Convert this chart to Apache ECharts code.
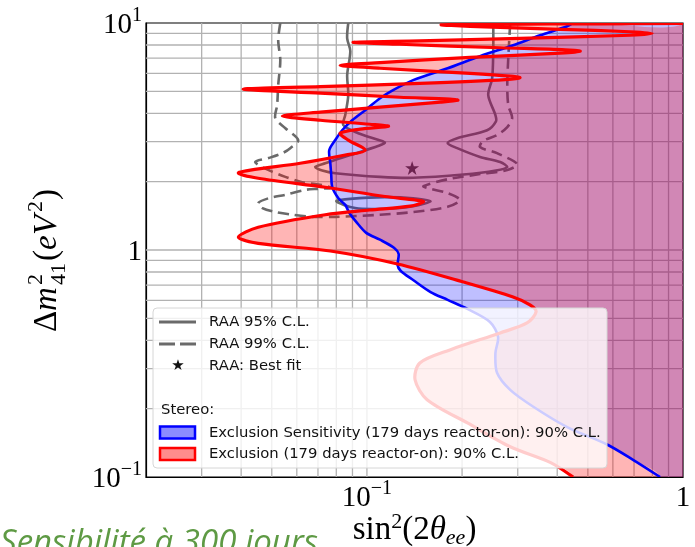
<!DOCTYPE html>
<html><head><meta charset="utf-8">
<script src="https://cdn.jsdelivr.net/npm/echarts@6/dist/echarts.min.js"></script>
<style>html,body{margin:0;padding:0;background:#fff}#c{width:695px;height:547px}</style>
</head><body><div id="c"></div>
<script>
// ---- grid line positions (minor + major decades) ----
const xGridValues = [0.03,0.04,0.05,0.06,0.07,0.08,0.09,0.1,0.2,0.3,0.4,0.5,0.6,0.7,0.8,0.9];
const yGridValues = [0.2,0.3,0.4,0.5,0.6,0.7,0.8,0.9,1,2,3,4,5,6,7,8,9];

// ---- Stereo exclusion contour (90% C.L.), [sin^2(2theta), dm2] top -> bottom ----
const exclusionCurve = [
 [1,9.95],[0.547,9.92],[0.264,9.87],[0.172,9.82],[0.212,9.67],[0.408,9.38],[0.680,9.15],[0.798,9.01],
 [0.680,8.83],[0.305,8.56],[0.147,8.35],[0.0905,8.23],[0.127,8.06],[0.264,7.78],[0.424,7.62],[0.473,7.51],
 [0.408,7.36],[0.212,7.06],[0.110,6.69],[0.0823,6.51],[0.110,6.32],[0.212,6.0],[0.284,5.83],[0.305,5.74],
 [0.274,5.63],[0.147,5.42],[0.0712,5.24],[0.0406,5.11],[0.0712,4.91],[0.127,4.71],[0.183,4.62],[0.194,4.57],
 [0.171,4.48],[0.110,4.26],[0.0712,4.05],[0.054,3.89],[0.0712,3.73],[0.102,3.58],[0.117,3.51],[0.0952,3.41],
 [0.0823,3.27],[0.0873,3.05],[0.0988,2.75],[0.0854,2.62],[0.0615,2.41],[0.0428,2.25],[0.0392,2.18],[0.0453,2.07],
 [0.0738,1.89],[0.114,1.72],[0.142,1.66],[0.151,1.63],[0.137,1.56],[0.102,1.50],[0.0738,1.43],[0.0453,1.26],
 [0.0392,1.14],[0.0453,1.07],[0.0766,0.99],[0.125,0.868],[0.202,0.723],[0.290,0.621],[0.328,0.573],[0.343,0.534],
 [0.321,0.477],[0.264,0.431],[0.183,0.363],[0.147,0.318],[0.142,0.268],[0.155,0.219],[0.208,0.173],[0.284,0.136],
 [0.380,0.116],[0.449,0.100]
];

// ---- Stereo exclusion sensitivity contour (90% C.L.) ----
const sensitivityCurve = [
 [0.449,10],[0.430,9.67],[0.353,8.83],[0.290,7.98],[0.228,7.14],[0.180,6.32],[0.140,5.60],[0.121,5.06],
 [0.110,4.66],[0.0988,4.13],[0.0898,3.73],[0.0835,3.37],[0.0794,3.05],[0.0760,2.75],[0.0766,2.41],[0.0771,2.14],
 [0.0777,1.89],[0.0812,1.69],[0.0854,1.58],[0.0879,1.46],[0.0925,1.33],[0.0995,1.19],[0.110,1.11],[0.122,1.02],
 [0.126,0.960],[0.125,0.859],[0.128,0.808],[0.140,0.738],[0.159,0.653],[0.180,0.603],[0.208,0.550],[0.245,0.482],
 [0.260,0.414],[0.255,0.352],[0.258,0.288],[0.284,0.242],[0.336,0.204],[0.430,0.166],[0.575,0.139],[0.695,0.119],
 [0.846,0.100]
];

// ---- RAA allowed regions ----
const raa95Main = [
 [0.0873,10],[0.0866,8.56],[0.0886,7.51],[0.0866,5.89],[0.0873,4.81],[0.0854,3.93],[0.0842,3.55],[0.0939,3.27],
 [0.109,3.05],[0.114,2.97],[0.109,2.88],[0.0886,2.62],[0.0738,2.41],[0.0686,2.32],[0.0722,2.24],[0.0794,2.18],
 [0.110,2.10],[0.140,2.08],[0.202,2.15],[0.256,2.24],[0.278,2.32],[0.264,2.44],[0.228,2.57],[0.193,2.81],
 [0.180,2.96],[0.193,3.11],[0.240,3.37],[0.256,3.69],[0.255,3.93],[0.242,4.81],[0.249,5.71],[0.251,7.58],[0.251,10]
];
const raa95Island = [
 [0.0800,1.64],[0.0886,1.68],[0.114,1.71],[0.140,1.69],[0.159,1.64],[0.140,1.56],[0.114,1.52],[0.0918,1.53]
];
const raa99 = [
 [0.0532,10],[0.0524,8.40],[0.0532,6.85],[0.0524,5.32],[0.0520,4.35],[0.0513,3.81],[0.0552,3.44],[0.0606,3.05],
 [0.0572,2.81],[0.0540,2.67],[0.0488,2.54],[0.0443,2.44],[0.0495,2.23],[0.0552,2.10],[0.0624,1.99],[0.0722,1.93],
 [0.0771,1.88],[0.0702,1.86],[0.0638,1.84],[0.0552,1.75],[0.0488,1.69],[0.0453,1.61],[0.0467,1.53],[0.0513,1.47],
 [0.0581,1.43],[0.0672,1.40],[0.0794,1.40],[0.110,1.43],[0.140,1.47],[0.180,1.55],[0.197,1.66],[0.180,1.78],
 [0.159,1.86],[0.151,1.91],[0.180,2.05],[0.228,2.16],[0.278,2.25],[0.299,2.39],[0.258,2.67],[0.228,2.84],
 [0.233,3.02],[0.258,3.21],[0.278,3.48],[0.288,3.81],[0.280,4.35],[0.278,5.32],[0.280,6.99],[0.284,10]
];
const raaBestFit = [[0.139, 2.30]];

// ---- axis extents ----
const xRange = [0.02, 1];
const yRange = [0.1, 10];

const serif = 'Liberation Serif';
const SMOOTH = 0.3;
const STAR = 'path://M50,0 L61.8,36.2 L100,36.2 L69.1,58.6 L80.9,95 L50,72.6 L19.1,95 L30.9,58.6 L0,36.2 L38.2,36.2 Z';

function expLabel(v){
  const l = Math.log10(v), e = Math.round(l);
  if (Math.abs(l - e) > 1e-6) return '';
  if (e === 0) return '{b|1}';
  return '{b|10}{s|' + (e < 0 ? '\u2212' : '') + Math.abs(e) + '}';
}
const tickRich = {
  b:{fontFamily:serif,fontSize:29,color:'#000',lineHeight:34,verticalAlign:'bottom'},
  s:{fontFamily:serif,fontSize:20,color:'#000',lineHeight:34,verticalAlign:'top'}
};

// filled region: right of the curve, up to the right edge (extended outside the frame, clipped)
function regionSeries(curve, color, z){
  return {
    type:'custom', z:z, silent:true, clip:true, data:[[0.5,1]],
    renderItem:function(p, api){
      const first = curve[0], last = curve[curve.length-1];
      const pts = curve.map(function(q){ return api.coord(q); });
      pts.push(api.coord([last[0], yRange[0]*0.6]));
      pts.push(api.coord([xRange[1]*3, yRange[0]*0.6]));
      pts.push(api.coord([xRange[1]*3, yRange[1]*1.6]));
      pts.push(api.coord([first[0], yRange[1]*1.6]));
      return {type:'polygon', shape:{points:pts, smooth:SMOOTH}, style:{fill:color}};
    }
  };
}
function curveSeries(curve, color, width, z, dash, closed){
  return {
    type:'custom', z:z, silent:true, clip:true, data:[[0.5,1]],
    renderItem:function(p, api){
      const pts = curve.map(function(q){ return api.coord(q); });
      return {type: closed ? 'polygon' : 'polyline', shape:{points:pts, smooth:SMOOTH},
        style:{fill:'none', stroke:color, lineWidth:width, lineDash: dash || null, lineJoin:'round', lineCap:'butt'}};
    }
  };
}
function gridSeries(values, vertical){
  return {
    type:'custom', z:1, silent:true,
    data: values.map(function(v){ return vertical ? [v, 1] : [0.5, v]; }),
    renderItem:function(p, api){
      const v = api.value(vertical ? 0 : 1);
      const a = vertical ? api.coord([v, yRange[0]]) : api.coord([xRange[0], v]);
      const b = vertical ? api.coord([v, yRange[1]]) : api.coord([xRange[1], v]);
      return {type:'line', shape:{x1:a[0],y1:a[1],x2:b[0],y2:b[1]}, style:{stroke:'#b2b2b2', lineWidth:1.3}};
    }
  };
}

const legendFont = '14.8px "DejaVu Sans"';
function legText(t, x, y){
  return {type:'text', z:101, x:x, y:y, style:{text:t, font:legendFont, fill:'#111', verticalAlign:'middle', textVerticalAlign:'middle'}};
}
function yTitlePiece(t, x, y, size, italic){
  return {type:'text', x:x, y:y, style:{text:t, font:(italic?'italic ':'') + size + 'px "Liberation Serif"', fill:'#000', verticalAlign:'middle', textVerticalAlign:'middle'}};
}

const chart = echarts.init(document.getElementById('c'));
chart.setOption({
  animation:false,
  backgroundColor:'#fff',
  grid:{left:146, right:12, top:23, bottom:70, show:true, borderColor:'#000', borderWidth:1.2, backgroundColor:'transparent',
        containLabel:false, outerBoundsMode:'none'},
  xAxis:{type:'log', logBase:10, min:xRange[0], max:xRange[1],
    axisLine:{show:true, lineStyle:{color:'#000', width:1.2}}, axisTick:{show:false}, splitLine:{show:false},
    axisLabel:{formatter:expLabel, rich:tickRich, margin:2, showMinLabel:true, showMaxLabel:true},
    name:'{a|sin}{s|2}{a|(2}{t|\u03b8}{u|ee}{a|)}', nameLocation:'middle', nameGap:34, nameMoveOverlap:false,
    nameTextStyle:{rich:{
      a:{fontFamily:serif,fontSize:33,color:'#000',lineHeight:38},
      s:{fontFamily:serif,fontSize:22,color:'#000',lineHeight:38,verticalAlign:'top'},
      t:{fontFamily:serif,fontSize:33,fontStyle:'italic',color:'#000',lineHeight:38},
      u:{fontFamily:serif,fontSize:22,fontStyle:'italic',color:'#000',lineHeight:38,verticalAlign:'bottom'}
    }}
  },
  yAxis:{type:'log', logBase:10, min:yRange[0], max:yRange[1],
    axisLine:{show:true, lineStyle:{color:'#000', width:1.2}}, axisTick:{show:false}, splitLine:{show:false},
    axisLabel:{formatter:expLabel, rich:tickRich, margin:4}
  },
  series:[
    gridSeries(xGridValues, true),
    gridSeries(yGridValues, false),
    curveSeries(raa95Main, '#6a6a6a', 2.6, 2),
    curveSeries(raa95Island, '#6a6a6a', 2.6, 2, null, true),
    curveSeries(raa99, '#6a6a6a', 2.6, 2, [11,6]),
    {type:'scatter', data:raaBestFit, z:2, silent:true, symbol:STAR, symbolSize:14, itemStyle:{color:'#111'}},
    regionSeries(sensitivityCurve, 'rgba(0,0,255,0.25)', 3),
    regionSeries(exclusionCurve, 'rgba(255,0,0,0.29)', 3),
    curveSeries(sensitivityCurve, '#0000ff', 2.6, 4),
    curveSeries(exclusionCurve, '#ff0000', 3.2, 5)
  ],
  graphic:[
    // y-axis title, rotated
    {type:'group', x:47, y:256, rotation:Math.PI/2, children:[
      yTitlePiece('\u0394', -76, 0, 33, false),
      yTitlePiece('m', -55, 0, 33, true),
      yTitlePiece('2', -29, -11, 22, false),
      yTitlePiece('41', -29, 12, 22, false),
      yTitlePiece('(', -5, 0, 33, false),
      yTitlePiece('e', 6, 0, 33, true),
      yTitlePiece('V', 21, 0, 33, true),
      yTitlePiece('2', 44, -11, 22, false),
      yTitlePiece(')', 56, 0, 33, false)
    ]},
    {type:'rect', z:100, shape:{x:153,y:308,width:454,height:160,r:4}, style:{fill:'rgba(255,255,255,0.8)', stroke:'#d6d6d6', lineWidth:1}},
    {type:'line', z:101, shape:{x1:159,y1:322,x2:196,y2:322}, style:{stroke:'#6a6a6a', lineWidth:3}},
    {type:'line', z:101, shape:{x1:159,y1:344,x2:196,y2:344}, style:{stroke:'#6a6a6a', lineWidth:3, lineDash:[16,5]}},
    {type:'text', z:101, x:178, y:366, style:{text:'\u2605', font:'15px "DejaVu Sans"', fill:'#111', align:'center', verticalAlign:'middle', textAlign:'center', textVerticalAlign:'middle'}},
    legText('RAA 95% C.L.', 209, 322),
    legText('RAA 99% C.L.', 209, 344),
    legText('RAA: Best fit', 209, 366),
    legText('Stereo:', 161, 410),
    {type:'rect', z:101, shape:{x:160,y:426.5,width:35,height:12}, style:{fill:'rgba(0,0,255,0.45)', stroke:'#0000ff', lineWidth:2.5}},
    legText('Exclusion Sensitivity (179 days reactor-on): 90% C.L.', 209, 433),
    {type:'rect', z:101, shape:{x:160,y:448,width:35,height:12}, style:{fill:'rgba(255,0,0,0.45)', stroke:'#ff0000', lineWidth:2.5}},
    legText('Exclusion (179 days reactor-on): 90% C.L.', 209, 454),
    {type:'text', z:101, x:0, y:544, style:{text:'Sensibilit\u00e9 \u00e0 300 jours', font:'italic 33px "Open Sans"', fill:'#5e9a44', verticalAlign:'middle', textVerticalAlign:'middle'}}
  ]
});
</script></body></html>
